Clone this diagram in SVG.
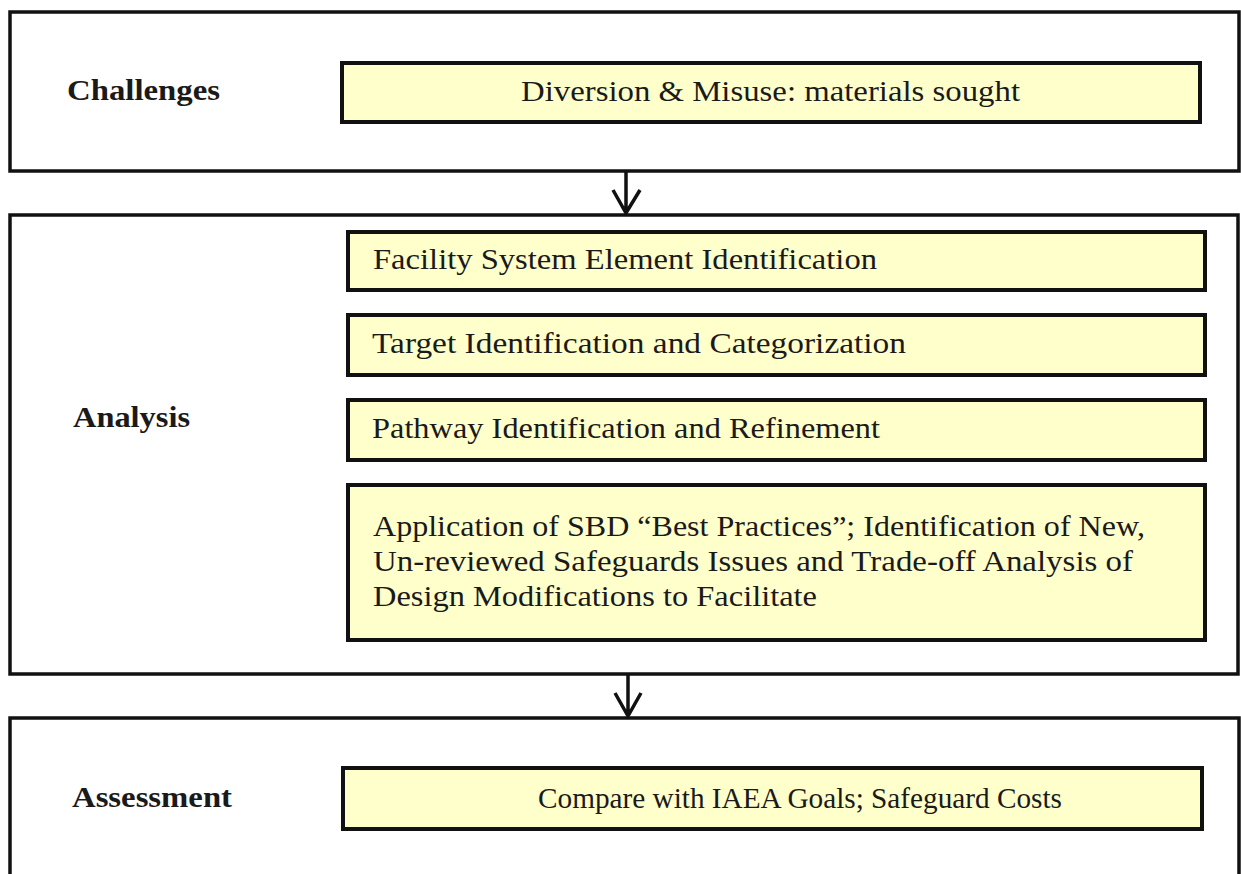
<svg xmlns="http://www.w3.org/2000/svg" width="1241" height="874" viewBox="0 0 1241 874">
<style>
.stage{fill:#ffffff;stroke:#111111;stroke-width:3.5}
.item{fill:#ffffcc;stroke:#111111;stroke-width:4}
.lbl{font-family:"Liberation Serif","Times New Roman",serif;font-weight:bold;font-size:29px;fill:#1a1a1a}
.txt{font-family:"Liberation Serif","Times New Roman",serif;font-size:29px;fill:#1a1a1a}
.arr{fill:none;stroke:#111111;stroke-width:3.5}
</style>
<rect width="1241" height="874" fill="#ffffff"/>
<g id="challenges">
<rect class="stage" x="10" y="12" width="1229" height="159"/>
<text class="lbl" x="67" y="100" textLength="153" lengthAdjust="spacingAndGlyphs">Challenges</text>
</g>
<g id="diversion">
<rect class="item" x="342" y="63" width="858" height="59"/>
<text class="txt" x="521" y="101" textLength="499" lengthAdjust="spacingAndGlyphs">Diversion &amp; Misuse: materials sought</text>
</g>
<g id="analysis">
<rect class="stage" x="10" y="215" width="1228" height="459"/>
<text class="lbl" x="73" y="427" textLength="117" lengthAdjust="spacingAndGlyphs">Analysis</text>
</g>
<g id="facility">
<rect class="item" x="348" y="232" width="857" height="58"/>
<text class="txt" x="373" y="269" textLength="504" lengthAdjust="spacingAndGlyphs">Facility System Element Identification</text>
</g>
<g id="target">
<rect class="item" x="348" y="315" width="857" height="60"/>
<text class="txt" x="372" y="353" textLength="534" lengthAdjust="spacingAndGlyphs">Target Identification and Categorization</text>
</g>
<g id="pathway">
<rect class="item" x="348" y="400" width="857" height="60"/>
<text class="txt" x="372" y="438" textLength="508" lengthAdjust="spacingAndGlyphs">Pathway Identification and Refinement</text>
</g>
<g id="application">
<rect class="item" x="348" y="485" width="857" height="155"/>
<text class="txt" x="373" y="536" textLength="772" lengthAdjust="spacingAndGlyphs">Application of SBD “Best Practices”; Identification of New,</text>
<text class="txt" x="373" y="571" textLength="760" lengthAdjust="spacingAndGlyphs">Un-reviewed Safeguards Issues and Trade-off Analysis of</text>
<text class="txt" x="373" y="606" textLength="444" lengthAdjust="spacingAndGlyphs">Design Modifications to Facilitate</text>
</g>
<g id="assessment">
<rect class="stage" x="10" y="718" width="1229" height="170"/>
<text class="lbl" x="72" y="807" textLength="160" lengthAdjust="spacingAndGlyphs">Assessment</text>
</g>
<g id="compare">
<rect class="item" x="343" y="768" width="859" height="61"/>
<text class="txt" x="538" y="808" textLength="524" lengthAdjust="spacingAndGlyphs">Compare with IAEA Goals; Safeguard Costs</text>
</g>
<g id="connectors">
<path class="arr" d="M626 171 V213 M613 190 L626 213 L640 190"/>
<path class="arr" d="M628 674 V716 M615 693 L628 716 L641 693"/>
</g>
</svg>
